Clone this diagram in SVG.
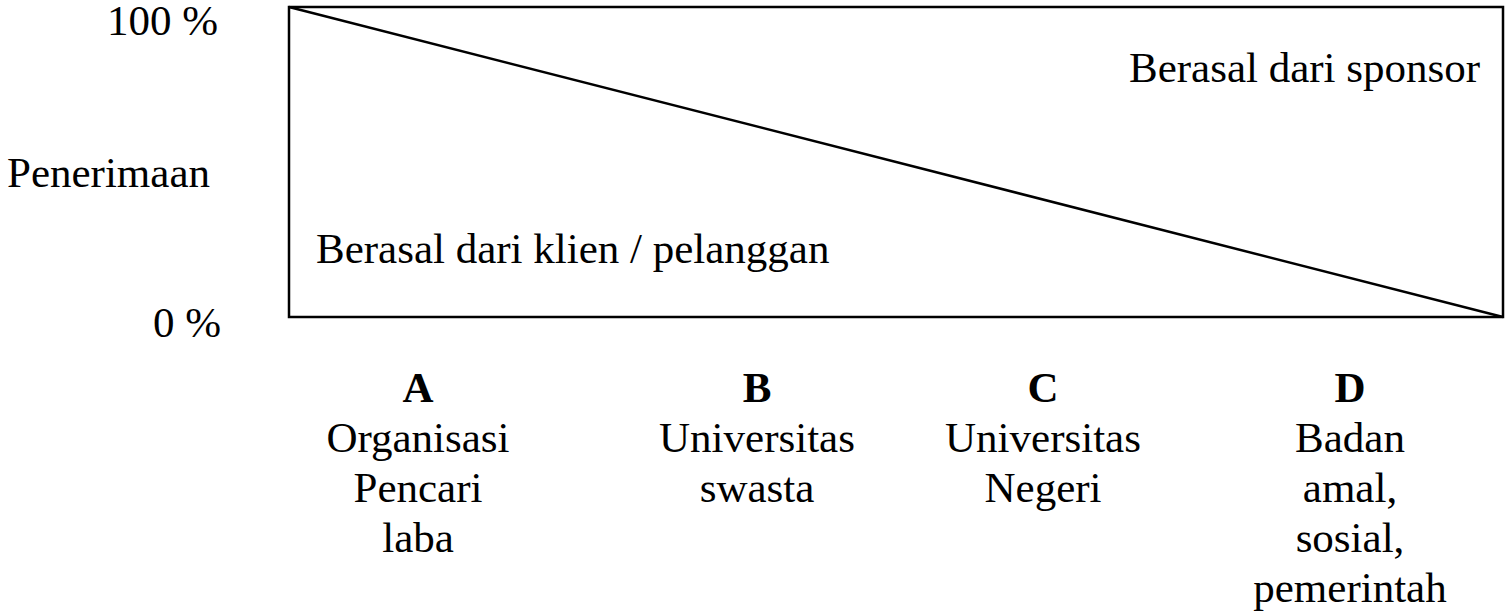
<svg xmlns="http://www.w3.org/2000/svg" width="1505" height="613" viewBox="0 0 1505 613">
<style>
text{font-family:"Liberation Serif","Times New Roman",serif;font-size:43px;fill:#000}
.c{text-anchor:middle}
.b{font-weight:bold}
</style>
<rect width="1505" height="613" fill="#fff"/>
<g id="frame">
<rect x="289" y="7" width="1214" height="310" fill="none" stroke="#000" stroke-width="2.5"/>
</g>
<g id="connectors">
<line x1="289" y1="7" x2="1503" y2="317" stroke="#000" stroke-width="2.5"/>
</g>
<g id="axis">
<text x="218" y="35" text-anchor="end">100 %</text>
<text x="7" y="187">Penerimaan</text>
<text x="221" y="337" text-anchor="end">0 %</text>
</g>
<g id="region-sponsor"><text x="1129" y="82">Berasal dari sponsor</text></g>
<g id="region-klien"><text x="316" y="263">Berasal dari klien / pelanggan</text></g>
<g id="cat-A">
<text x="418" y="402" class="c b">A</text>
<text x="418" y="452" class="c">Organisasi</text>
<text x="418" y="502" class="c">Pencari</text>
<text x="418" y="552" class="c">laba</text>
</g>
<g id="cat-B">
<text x="757" y="402" class="c b">B</text>
<text x="757" y="452" class="c">Universitas</text>
<text x="757" y="502" class="c">swasta</text>
</g>
<g id="cat-C">
<text x="1043" y="402" class="c b">C</text>
<text x="1043" y="452" class="c">Universitas</text>
<text x="1043" y="502" class="c">Negeri</text>
</g>
<g id="cat-D">
<text x="1350" y="402" class="c b">D</text>
<text x="1350" y="452" class="c">Badan</text>
<text x="1350" y="502" class="c">amal,</text>
<text x="1350" y="552" class="c">sosial,</text>
<text x="1350" y="602" class="c">pemerintah</text>
</g>
</svg>
